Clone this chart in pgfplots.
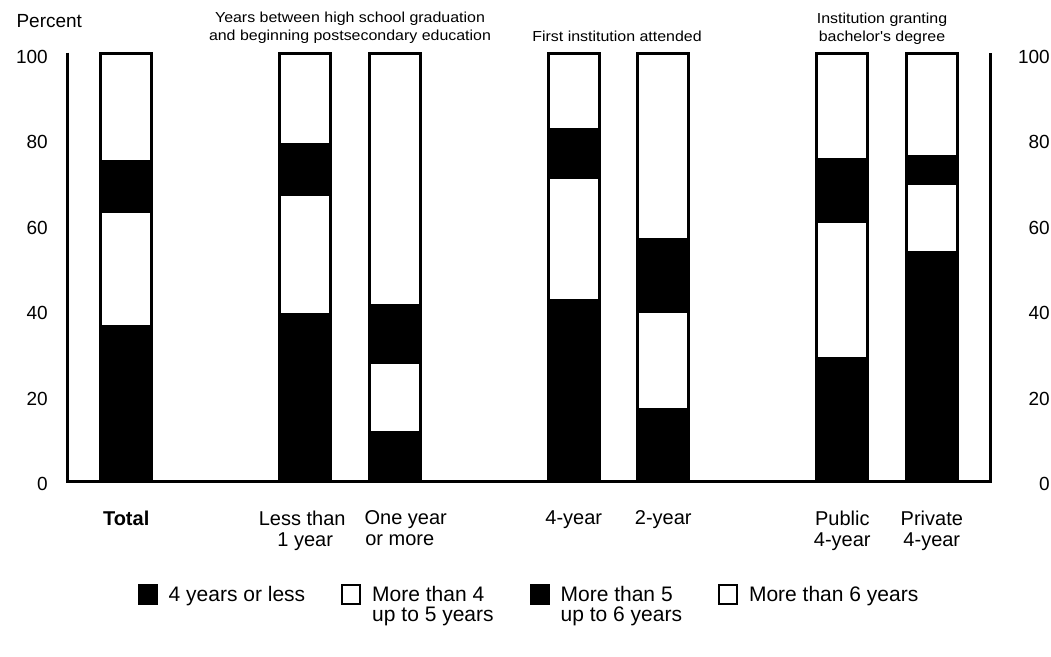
\documentclass[border=0pt]{standalone}
\usepackage{pgfplots}
\pgfplotsset{compat=1.18}
\usepackage{pgfplotstable}
\usepackage{fontspec}
\setmainfont{Liberation Sans}
\newfontfamily\titlefont[FakeStretch=1.1]{Liberation Sans}
\pgfplotstableread{
x a b c d
0 36.1 27.1 11.6 25.2
2 39.0 28.0 11.9 21.1
3 11.3 16.4 13.5 58.8
5 42.2 28.9 11.3 17.6
6 16.8 23.0 16.8 43.4
8 28.7 32.0 14.6 24.7
9 53.6 16.1 6.4 23.9
}\datatable
\begin{document}
\begin{tikzpicture}
\useasboundingbox (-68pt,-175pt) rectangle (983pt,481pt);
\begin{axis}[
  at={(0pt,0pt)}, anchor=south west,
  scale only axis, width=922pt, height=427pt,
  xmin=-0.65, xmax=9.65, ymin=0, ymax=100,
  ybar stacked, bar width=51pt,
  axis line style={draw=none},
  major tick length=0pt,
  xtick={0,2,3,5,6,8,9},
  xticklabels={\textbf{Total}, Less than\hspace*{6pt}\\1 year, \hspace*{22pt}One year\\\hspace*{10pt}or more, 4-year, 2-year, Public\\4-year, Private\\4-year},
  xticklabel style={font=\fontsize{20}{21}\selectfont, align=center, anchor=north, yshift=-26pt},
  ytick={0,20,40,60,80,100},
  yticklabel style={font=\fontsize{19}{22}\selectfont, anchor=east, xshift=-16.7pt, yshift=-3pt},
  /pgf/number format/assume math mode=true,
  clip=false,
  legend columns=4,
  legend cell align=left,
  legend style={at={(0.5,-0.2412)}, anchor=north, draw=none, fill=none, inner sep=0pt, outer sep=0pt,
    font=\fontsize{21}{20}\selectfont,
    /tikz/every odd column/.append style={column sep=9pt},
    /tikz/every even column/.append style={column sep=34pt}},
  sq/.style={legend image code/.code={\path[draw=none, fill=none] (0pt,-17pt) -- (0pt,17pt);
      \draw[##1, line width=2pt] (0pt,-2pt) rectangle (18pt,17pt);}},
]
\addplot[fill=black, draw=black, line width=3pt, sq] table[x=x, y=a] {\datatable};
\addlegendentry{\smash{4 years or less}}
\addplot[fill=white, draw=black, line width=3pt, sq] table[x=x, y=b] {\datatable};
\addlegendentry{\smash{\begin{tabular}[t]{@{}l@{}}More than 4\\up to 5 years\end{tabular}}}
\addplot[fill=black, draw=black, line width=3pt, sq] table[x=x, y=c] {\datatable};
\addlegendentry{\smash{\begin{tabular}[t]{@{}l@{}}More than 5\\up to 6 years\end{tabular}}}
\addplot[fill=white, draw=black, line width=3pt, sq] table[x=x, y=d] {\datatable};
\addlegendentry{\smash{More than 6 years}}
\draw[line width=3pt] (rel axis cs:0,1.003) -- (rel axis cs:0,0) -- (rel axis cs:1,0) -- (rel axis cs:1,1.003);
\end{axis}
\begin{axis}[
  at={(0pt,0pt)}, anchor=south west,
  scale only axis, width=922pt, height=427pt,
  xmin=-0.65, xmax=9.65, ymin=0, ymax=100,
  axis line style={draw=none},
  major tick length=0pt,
  xtick=\empty,
  ytick={0,20,40,60,80,100},
  yticklabel pos=right,
  yticklabel style={font=\fontsize{19}{22}\selectfont, anchor=east, xshift=63.3pt, yshift=-3pt},
  /pgf/number format/assume math mode=true,
]
\addplot[draw=none] coordinates {(0,0)};
\end{axis}
\node[anchor=base west, font=\fontsize{19}{22}\selectfont] at (-55pt,453pt) {Percent};
\node[anchor=base, font=\titlefont\fontsize{14.5}{16}\selectfont] at (282pt,458pt) {Years between high school graduation};
\node[anchor=base, font=\titlefont\fontsize{14.5}{16}\selectfont] at (282pt,440pt) {and beginning postsecondary education};
\node[anchor=base, font=\titlefont\fontsize{14.5}{16}\selectfont] at (549pt,439pt) {First institution attended};
\node[anchor=base, font=\titlefont\fontsize{14.5}{16}\selectfont] at (814pt,457pt) {Institution granting};
\node[anchor=base, font=\titlefont\fontsize{14.5}{16}\selectfont] at (814pt,439pt) {bachelor's degree};
\end{tikzpicture}
\end{document}
